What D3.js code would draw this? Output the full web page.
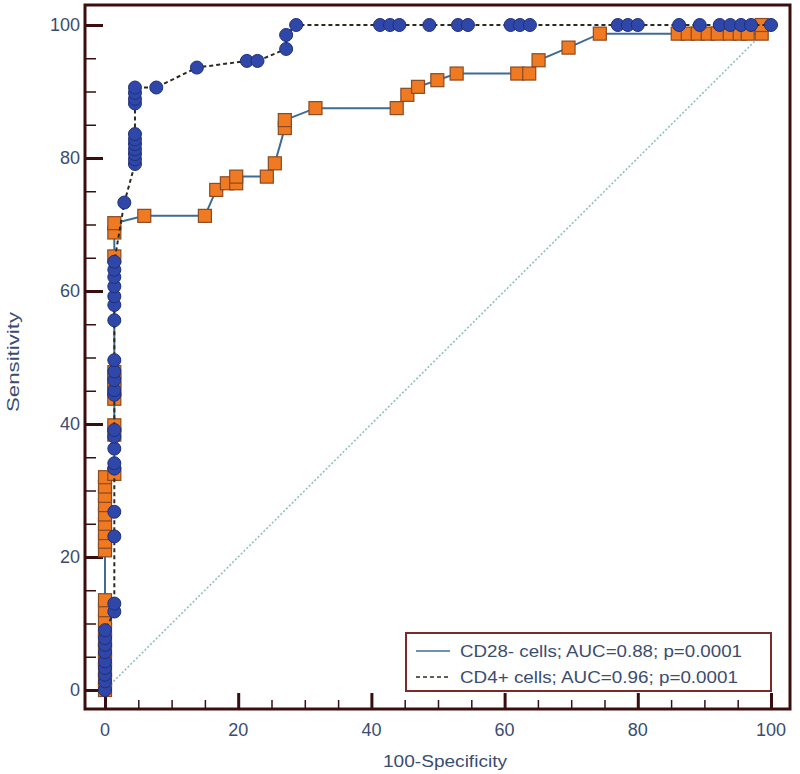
<!DOCTYPE html>
<html>
<head>
<meta charset="utf-8">
<script src="https://cdn.jsdelivr.net/npm/d3@7"></script>
<style>
body { margin: 0; background: #fff; }
text { font-family: "Liberation Sans", Arial, sans-serif; }
</style>
</head>
<body>
<div id="chart"></div>
<script>
// CD28- cells (orange squares, solid line)
var cd28X = [0,0,0,0,0,0,0,0,0,0, 0,0,0,0,0,0,0,0,0,
	1.4,1.4,1.4,1.4,1.4,1.4,1.4,1.4,1.4,1.4,
	5.9,15,16.7,18.3,19.7,19.7,24.3,25.5,27,27,31.6,43.8,45.4,47,49.9,52.8,61.9,63.7,65.1,69.6,74.3,
	86,87.5,89,90.5,92,93.8,95.3,96.5,98.6,98.6];
var cd28Y = [0,1.5,3,4.5,6,7.5,9,10.5,12,13.5, 21,22.3,23.6,25,26.4,27.8,29.2,30.6,32,
	32.5,38.4,39.8,43.8,45.2,46.5,47.8,65.2,68.8,70.2,
	71.3,71.3,75.2,76.2,76.2,77.2,77.2,79.2,84.5,85.7,87.5,87.5,89.5,90.7,91.7,92.7,92.7,92.7,94.7,96.6,98.7,
	98.7,98.7,98.7,98.7,98.7,98.7,98.7,98.7,98.7,100];

// CD4+ cells (blue circles, dashed line)
var cd4X = [0,0,0,0,0,0,0,0,0,
	1.4,1.4,1.4,1.4,1.4,1.4,1.4,1.4,1.4,1.4,1.4,1.4,1.4,1.4,1.4,1.4,1.4,1.4,1.4,1.4,1.4,
	2.9,4.5,4.5,4.5,4.5,4.5,4.5,4.5,4.5,4.5,4.5,4.5,
	7.7,13.8,21.3,22.9,27.2,27.2,28.7,41.3,42.8,44.2,48.7,53,54.5,60.9,62.3,63.8,77,78.5,80,86.2,89.3,92.3,93.9,95.5,97,100];
var cd4Y = [0,1.3,2.3,3.3,4.3,5.7,6.8,7.8,9,
	11.8,13,23.1,26.8,33.3,34.1,36.3,38.1,39.1,44.4,45.1,46.6,47.9,49.6,55.6,57.9,59.2,60.7,62.1,63.2,64.4,
	73.3,79.1,79.8,80.6,81.3,82.1,82.8,83.6,88.2,88.9,89.8,90.6,
	90.6,93.6,94.6,94.6,96.4,98.5,100,100,100,100,100,100,100,100,100,100,100,100,100,100,100,100,100,100,100,100];

var majorTicks = [0, 20, 40, 60, 80, 100];
var minorTicks = d3.range(0, 101, 5).filter(function(d){ return d % 20 != 0; });
var legendLabels = ["CD28- cells; AUC=0.88; p=0.0001", "CD4+ cells; AUC=0.96; p=0.0001"];

var width = 800, height = 774;
var frame = {left: 85, right: 790, top: 5, bottom: 709};

var svg = d3.select("#chart").append("svg")
	.attr("width", width)
	.attr("height", height);

var x = d3.scaleLinear().domain([0, 100]).range([105, 771]);
var y = d3.scaleLinear().domain([0, 100]).range([690, 25]);

var frameColor = "#3a0e0e";
var labelColor = "#3a4d70";

// frame
svg.append("rect")
	.attr("x", frame.left)
	.attr("y", frame.top)
	.attr("width", frame.right - frame.left)
	.attr("height", frame.bottom - frame.top)
	.style("fill", "#fff")
	.style("stroke", frameColor)
	.style("stroke-width", 3);

// y axis ticks (inside)
var yAxis = d3.axisRight(y).tickValues(majorTicks).tickSize(18).tickFormat("");
svg.append("g").attr("transform", "translate(" + frame.left + ",0)").call(yAxis)
	.call(function(g){ g.select(".domain").remove(); })
	.selectAll("line").style("stroke", frameColor).style("stroke-width", 3);
var yMinor = d3.axisRight(y).tickValues(minorTicks).tickSize(11).tickFormat("");
svg.append("g").attr("transform", "translate(" + frame.left + ",0)").call(yMinor)
	.call(function(g){ g.select(".domain").remove(); })
	.selectAll("line").style("stroke", frameColor).style("stroke-width", 1.5);

// x axis ticks (inside)
var xAxis = d3.axisTop(x).tickValues(majorTicks).tickSize(16).tickFormat("");
svg.append("g").attr("transform", "translate(0," + frame.bottom + ")").call(xAxis)
	.call(function(g){ g.select(".domain").remove(); })
	.selectAll("line").style("stroke", frameColor).style("stroke-width", 3);
var xMinor = d3.axisTop(x).tickValues(minorTicks).tickSize(9).tickFormat("");
svg.append("g").attr("transform", "translate(0," + frame.bottom + ")").call(xMinor)
	.call(function(g){ g.select(".domain").remove(); })
	.selectAll("line").style("stroke", frameColor).style("stroke-width", 1.5);

// tick labels
svg.selectAll(".ylab").data(majorTicks).enter().append("text")
	.attr("x", 80)
	.attr("y", function(d){ return y(d) + 6; })
	.attr("text-anchor", "end")
	.style("font-size", "18px")
	.style("fill", labelColor)
	.text(function(d){ return d; });
svg.selectAll(".xlab").data(majorTicks).enter().append("text")
	.attr("x", function(d){ return x(d); })
	.attr("y", 736)
	.attr("text-anchor", "middle")
	.style("font-size", "18px")
	.style("fill", labelColor)
	.text(function(d){ return d; });

// axis titles
svg.append("text")
	.attr("transform", "translate(19,362) rotate(-90)")
	.attr("text-anchor", "middle")
	.attr("textLength", 100)
	.attr("lengthAdjust", "spacingAndGlyphs")
	.style("font-size", "16px")
	.style("fill", labelColor)
	.text("Sensitivity");
svg.append("text")
	.attr("x", 445)
	.attr("y", 767)
	.attr("text-anchor", "middle")
	.attr("textLength", 124)
	.attr("lengthAdjust", "spacingAndGlyphs")
	.style("font-size", "16px")
	.style("fill", labelColor)
	.text("100-Specificity");

// reference diagonal
svg.append("line")
	.attr("x1", x(0)).attr("y1", y(0))
	.attr("x2", x(100)).attr("y2", y(100))
	.style("stroke", "#86bcbc")
	.style("stroke-width", 1.5)
	.style("stroke-dasharray", "2,2");

var line = d3.line()
	.x(function(d){ return x(d[0]); })
	.y(function(d){ return y(d[1]); });

// CD28- curve
var cd28 = d3.zip(cd28X, cd28Y);
svg.append("path")
	.datum(cd28)
	.attr("d", line)
	.style("fill", "none")
	.style("stroke", "#3f6b94")
	.style("stroke-width", 2);
svg.selectAll(".sq").data(cd28).enter().append("rect")
	.attr("x", function(d){ return x(d[0]) - 6.5; })
	.attr("y", function(d){ return y(d[1]) - 6.5; })
	.attr("width", 13)
	.attr("height", 13)
	.style("fill", "#f07a22")
	.style("stroke", "#8a4a22")
	.style("stroke-width", 1.2);

// CD4+ curve
var cd4 = d3.zip(cd4X, cd4Y);
svg.append("path")
	.datum(cd4)
	.attr("d", line)
	.style("fill", "none")
	.style("stroke", "#2b2b20")
	.style("stroke-width", 2)
	.style("stroke-dasharray", "4,3");
svg.selectAll(".dot").data(cd4).enter().append("circle")
	.attr("cx", function(d){ return x(d[0]); })
	.attr("cy", function(d){ return y(d[1]); })
	.attr("r", 6.5)
	.style("fill", "#2f47a8")
	.style("stroke", "#1f2f7a")
	.style("stroke-width", 1);

// legend
var lg = svg.append("g");
lg.append("rect")
	.attr("x", 406).attr("y", 633)
	.attr("width", 365).attr("height", 58)
	.style("fill", "#fff")
	.style("stroke", "#7a2a2a")
	.style("stroke-width", 2);
var dashes = ["none", "4,3"];
var lineColors = ["#3f6b94", "#2b2b20"];
legendLabels.forEach(function(lab, i){
	var ly = 651 + i * 26;
	lg.append("line")
		.attr("x1", 416).attr("x2", 450)
		.attr("y1", ly).attr("y2", ly)
		.style("stroke", lineColors[i])
		.style("stroke-width", 1.5)
		.style("stroke-dasharray", dashes[i]);
	lg.append("text")
		.attr("x", 460)
		.attr("y", ly + 6)
		.attr("textLength", 282 - i * 4)
		.attr("lengthAdjust", "spacingAndGlyphs")
		.style("font-size", "16px")
		.style("fill", labelColor)
		.text(lab);
});
</script>
</body>
</html>
